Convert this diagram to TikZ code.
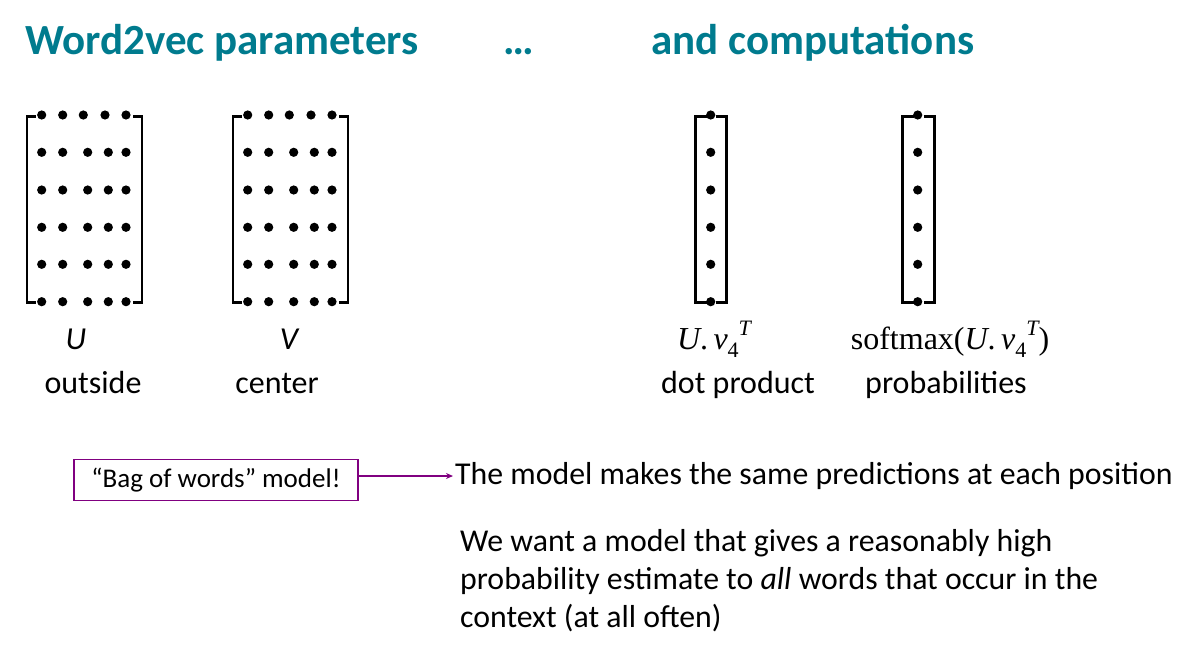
\documentclass[tikz,border=0pt]{standalone}
\usepackage{fontspec}
\setmainfont{Carlito}
\newfontfamily\serifm{Liberation Serif}
\usetikzlibrary{arrows.meta}
\definecolor{teal2}{HTML}{007B8E}
\definecolor{purp}{HTML}{800080}
\tikzset{
  ttl/.style={text=teal2,font=\fontsize{43}{48}\selectfont\bfseries,anchor=base west,inner sep=0pt},
  lbl/.style={font=\fontsize{32}{36}\selectfont,anchor=base,inner sep=0pt},
  bodytxt/.style={font=\fontsize{31.8}{38}\selectfont,inner sep=0pt},
  brk/.style={line width=2.8pt},
}
\newcommand{\mydot}[2]{\fill (#1,#2) circle (4.6);}
\newcommand{\bracketpair}[3]{% left x, right x, tick length
  \draw[brk] (#1+#3,116.5) -- (#1,116.5) -- (#1,302.5) -- (#1+#3,302.5);
  \draw[brk] (#2-#3,116.5) -- (#2,116.5) -- (#2,302.5) -- (#2-#3,302.5);
}
\newcommand{\uvt}{{\serifm\itshape U}{\serifm.\,}{\serifm\itshape v}%
  \raisebox{-0.28em}{\serifm\fontsize{22}{24}\selectfont 4}%
  \raisebox{0.42em}{\serifm\itshape\fontsize{22}{24}\selectfont T}}
\begin{document}
\begin{tikzpicture}[x=1pt,y=-1pt]
\useasboundingbox (0,0) rectangle (1201,661);
% titles
\node[ttl] (t1) at (25,55) {Word2vec parameters};
\node[ttl] (t2) at (503,55) {…};
\node[ttl] (t3) at (651,55) {and computations};
% matrix U
\bracketpair{27}{142}{9}
\foreach \xx in {41.7,62.7,83.3,105,126} {\mydot{\xx}{115}}
\foreach \yy in {152.3,190,227.3,264.3,301.7} {
  \foreach \xx in {41.7,62.7,87.7,108.3,126} {\mydot{\xx}{\yy}}}
% matrix V
\bracketpair{233}{348}{9}
\foreach \xx in {247.7,268.7,289.3,311,332} {\mydot{\xx}{115}}
\foreach \yy in {152.3,190,227.3,264.3,301.7} {
  \foreach \xx in {247.7,268.7,293.7,314.3,332} {\mydot{\xx}{\yy}}}
% vectors
\bracketpair{695.5}{726.5}{11}
\bracketpair{902.5}{934.5}{11}
\foreach \yy in {115,152.3,190,227.3,264.3,301.7} {\mydot{710.7}{\yy}\mydot{917.7}{\yy}}
% labels
\node[lbl] (lu) at (76,349) {{\itshape U}};
\node[lbl] (lv) at (289,349) {{\itshape V}};
\node[lbl] (lo) at (93,393) {outside};
\node[lbl] (lc) at (277,393) {center};
\node[lbl] (ld1) at (714,349) {\uvt};
\node[lbl] (ls1) at (950,349) {{\serifm softmax(}\uvt{\serifm)}};
\node[lbl] (ld2) at (738,393) {dot product};
\node[lbl] (ls2) at (946,393) {probabilities};
% box and arrow
\node[draw=purp,line width=1.5pt,minimum width=284pt,minimum height=41pt,inner sep=0pt,
  font=\fontsize{27}{30}\selectfont] (bag) at (216,480) {“Bag of words” model!};
\node[bodytxt,anchor=west] (pred) at (455,476) {The model makes the same predictions at each position};
\draw[purp,line width=1.2pt,-{Stealth[length=7pt,width=6pt]}] (bag.east |- pred.west) -- ([xshift=-2pt]pred.west);
\node[bodytxt,anchor=north west,align=left] (para) at (460,529)
  {We want a model that gives a reasonably high\\probability estimate to \textit{all} words that occur in the\\context (at all often)};
\end{tikzpicture}
\end{document}
